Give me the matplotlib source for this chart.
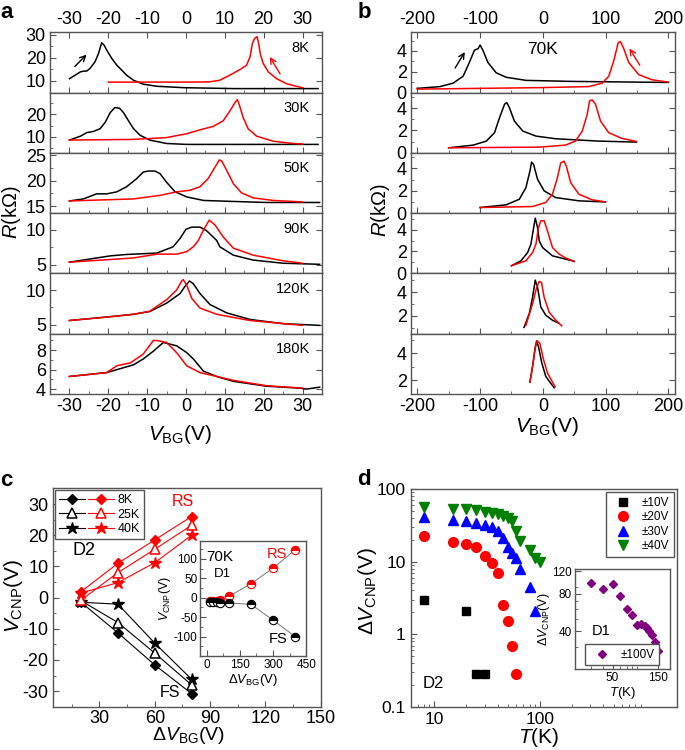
import matplotlib
matplotlib.use('Agg')
import matplotlib.pyplot as plt
from matplotlib.ticker import MultipleLocator, NullFormatter, FixedLocator
from matplotlib.lines import Line2D
from matplotlib.legend_handler import HandlerTuple

plt.rcParams['font.family'] = ['Liberation Sans', 'DejaVu Sans']
plt.rcParams['mathtext.fontset'] = 'custom'
plt.rcParams['mathtext.rm'] = 'Liberation Sans'
plt.rcParams['mathtext.it'] = 'Liberation Sans:italic'
plt.rcParams['axes.unicode_minus'] = False

# ---------------- panel a : R vs V_BG, device D2 ----------------
a_temps = ['8K', '30K', '50K', '90K', '120K', '180K']

a8_fs_v = [-30, -28.5, -27.2, -26.4, -25.5, -24.7, -23.4, -22.5, -21.7, -21.1, -20.4, -19.1, -17.8, -16.5, -15.3, -13.5, -11, -7.5, -0.7, 12.2, 34]
a8_fs_r = [11, 12.5, 13.9, 14.2, 14.3, 15.4, 18.3, 21.9, 26.5, 25.5, 23.3, 19.7, 16.8, 14.6, 12.5, 10.3, 8.6, 7.7, 7.1, 6.7, 6.7]
a8_rs_v = [-20, 0, 6, 8.7, 11.3, 13.9, 15.6, 16.5, 17.1, 17.7, 18.3, 18.7, 19.2, 19.9, 21.2, 23.3, 25.9, 28.4, 30]
a8_rs_r = [9.5, 9.5, 9.6, 10.3, 12.5, 14.9, 16.8, 20.4, 26.2, 28.4, 29.1, 26.2, 21.2, 17.5, 13.9, 11, 8.8, 7.7, 7.1]

a30_fs_v = [-30, -27.2, -25.5, -23.8, -22.1, -20.8, -19.5, -18.3, -17.1, -16.1, -14.8, -13.5, -11.8, -9.3, -5, 0.2, 34]
a30_fs_r = [8.6, 10.3, 11.9, 12.4, 13.6, 16.4, 20.7, 22.9, 22.6, 20.7, 17.1, 13.6, 10.7, 8.6, 7.1, 6.7, 6.7]
a30_rs_v = [-30, -13.5, -5, 0.2, 3.6, 7, 9.6, 11.3, 12.6, 13.2, 13.7, 14.7, 16, 18.2, 22.5, 27.6, 30]
a30_rs_r = [8.6, 8.9, 9.7, 11.4, 13.1, 14.6, 17.1, 21.4, 25, 26.4, 24.3, 18.6, 13.6, 10.3, 8.1, 7.1, 6.9]

a50_fs_v = [-30, -26.4, -23, -20.4, -17.8, -15.3, -12.7, -11, -9.7, -8, -6.7, -5, -2.8, 0.2, 4.5, 12.2, 20.7, 34.4]
a50_fs_r = [16, 16.4, 17.4, 17.4, 17.8, 18.8, 20.4, 21.7, 21.9, 21.9, 21.4, 19.7, 17.8, 16.8, 16.1, 15.9, 15.7, 15.7]
a50_rs_v = [-30, -13.5, -6.7, -2.4, 1, 3.6, 5.7, 7.5, 8.6, 9.2, 10.5, 12.2, 14.3, 17.3, 22.5, 30]
a50_rs_r = [16, 16.4, 17.1, 17.8, 18.1, 18.8, 20.4, 22.7, 24.1, 23.9, 22, 19.4, 17.6, 16.6, 16.1, 15.8]

a90_fs_v = [-30, -19.5, -15.3, -7.5, -3.3, -1.5, 0, 1.5, 3.6, 5.3, 7.9, 8.7, 12.2, 17.3, 25, 34.4]
a90_fs_r = [5.4, 6.3, 6.5, 6.7, 7.6, 8.8, 10.1, 10.4, 10.4, 9.9, 8.5, 7.6, 6.4, 5.7, 5.25, 5.1]
a90_rs_v = [-30, -13.5, -7.5, -2.4, 0.2, 1.9, 3.2, 4.5, 6, 7.5, 9.6, 12.2, 17.3, 25, 30]
a90_rs_r = [5.4, 6, 6.55, 6.55, 6.9, 7.6, 8.5, 10, 11.4, 10.7, 9, 7.4, 6.4, 5.6, 5.25]

a120_fs_v = [-30, -20.4, -13.5, -9.3, -5, -1.5, -0.3, 0.9, 1.9, 3.6, 6.2, 10.5, 16.5, 25, 34.4]
a120_fs_r = [5.6, 6.1, 6.5, 6.9, 8.1, 9.5, 10.5, 11.3, 10.9, 9.5, 7.9, 6.7, 5.75, 5.15, 4.9]
a120_rs_v = [-30, -20.4, -13.5, -9.3, -5, -2.4, -1.1, -0.7, 0.2, 1.5, 3.6, 7.9, 16.5, 30]
a120_rs_r = [5.6, 6.1, 6.5, 6.95, 8.6, 10, 11.3, 11.5, 10.7, 8.8, 7.4, 6.5, 5.6, 4.9]

a180_fs_v = [-30, -20.4, -17.8, -13.5, -11, -8.4, -5.8, -2.4, 0.2, 1.9, 4.5, 7.9, 12.2, 20.7, 29.3, 31, 34.4]
a180_fs_r = [5.3, 5.7, 6, 6.5, 7.1, 7.9, 8.8, 8.45, 7.75, 7.1, 5.85, 5.3, 4.8, 4.3, 4.1, 4.0, 4.2]
a180_rs_v = [-30, -20.4, -17.8, -14.3, -11, -8.4, -7.5, -5, -2.4, 0.2, 3.6, 7.9, 12.2, 20.7, 30]
a180_rs_r = [5.3, 5.7, 6.4, 6.7, 7.6, 9, 9, 8.8, 7.75, 6.4, 5.7, 5.3, 4.9, 4.35, 4.1]

a_ylims = [(5, 31), (3, 29.5), (13.6, 25.5), (3.8, 12.4), (3.7, 12.4), (3.5, 9.7)]
a_yticks = [[10, 20, 30], [10, 20], [15, 20, 25], [5, 10], [5, 10], [4, 6, 8]]
a_yminor = [5, 5, 2.5, 2.5, 2.5, 1]

# ---------------- panel b : R vs V_BG at 70K, device D1 ----------------
b1_fs_v = [-200, -164, -143, -127, -117, -109, -103, -100, -95.5, -87.6, -74.4, -58.6, -26.9, 47, 200]
b1_fs_r = [0.4, 0.57, 0.9, 1.57, 2.9, 4.07, 4.23, 4.57, 4.07, 2.9, 1.9, 1.47, 1.17, 1.07, 0.97]
b1_rs_v = [-200, -5.8, 73, 94.5, 105, 113, 120, 123.5, 128.8, 136.7, 152.5, 173.6, 200]
b1_rs_r = [0.33, 0.47, 0.57, 0.9, 1.57, 3.07, 4.8, 4.9, 4.23, 2.9, 1.73, 1.23, 1.0]

b2_fs_v = [-150, -111, -90, -77, -69, -61, -57.5, -53.3, -45.4, -32, -11, 20.6, 89, 149]
b2_fs_r = [0.45, 0.69, 1.05, 1.8, 3.15, 4.35, 4.5, 4.05, 2.85, 1.95, 1.5, 1.26, 1.05, 0.96]
b2_rs_v = [-150, -5.8, 36, 52, 62.8, 70.7, 74.4, 78.6, 83.9, 91.8, 105, 126, 149]
b2_rs_r = [0.45, 0.51, 0.69, 1.05, 1.95, 3.45, 4.65, 4.74, 4.35, 2.85, 1.8, 1.29, 1.02]

b3_fs_v = [-100, -58.6, -37.5, -27, -20.6, -18, -14.8, -8.4, 2.1, 20.6, 57.5, 99.7]
b3_fs_r = [0.5, 0.74, 1.24, 2.28, 3.76, 4.56, 4.36, 3.02, 1.99, 1.39, 1.1, 1.0]
b3_rs_v = [-100, -16.4, 4.7, 15.3, 23.2, 28.5, 33.8, 37.5, 44.3, 57.5, 78.6, 99.7]
b3_rs_r = [0.5, 0.59, 0.95, 1.69, 3.17, 4.5, 4.65, 4.2, 2.73, 1.69, 1.19, 1.0]

b4_fs_v = [-50, -34.8, -24.3, -19, -16.4, -12.1, -8.4, -5.8, -0.5, 15.3, 47, 50]
b4_fs_r = [0.7, 1.15, 1.9, 2.67, 3.58, 5.04, 4.18, 2.97, 2.36, 1.6, 1.15, 1.1]
b4_rs_v = [-50, -27, -16.4, -11, -6.9, -3.2, 2.1, 7.4, 15.3, 25.9, 36.4, 50]
b4_rs_r = [0.7, 1.15, 1.9, 2.67, 4.18, 4.8, 4.8, 3.88, 2.36, 1.76, 1.4, 1.09]

b5_fs_v = [-30, -21.6, -16.4, -12.1, -8.4, -3.2, 4.7, 15.3, 26]
b5_fs_r = [1.03, 2.2, 3.58, 5.03, 4.4, 2.75, 2.06, 1.64, 1.37]
b5_rs_v = [-27, -16.4, -10, -5.8, -2.1, 2.1, 10, 20.6, 30]
b5_rs_r = [1.2, 3.03, 4.4, 4.92, 4.83, 3.58, 2.33, 1.64, 1.17]

b6_fs_v = [-20.6, -16.4, -12.7, -10, -6.9, -1.6, 4.7, 18]
b6_fs_r = [1.88, 3.02, 4.24, 4.92, 4.48, 3.27, 2.29, 1.45]
b6_rs_v = [-20.6, -16.4, -12.1, -9, -4.7, 0.5, 7.4, 19.5]
b6_rs_r = [1.88, 3.02, 4.48, 4.92, 4.73, 3.64, 2.54, 1.52]

b_ylims = [(0, 5.8), (0, 5.4), (0, 5.4), (0, 5.5), (0.5, 5.6), (1.0, 5.45)]
b_yticks = [[0, 2, 4], [0, 2, 4], [0, 2, 4], [0, 2, 4], [2, 4], [2, 4]]

# ---------------- panel c : V_CNP vs sweep range ----------------
c_dvbg = [20, 40, 60, 80]
c_fs_8k = [-1.5, -11.3, -21.6, -30.8]
c_rs_8k = [1.9, 11, 18.5, 26]
c_fs_25k = [-1, -8, -17.8, -28]
c_rs_25k = [-0.8, 8, 15.5, 23.2]
c_fs_40k = [-1.5, -2.1, -14.6, -26.2]
c_rs_40k = [1.5, 4.8, 11.2, 20]

ci_dvbg = [15, 30, 45, 60, 100, 200, 300, 400]
ci_rs = [-9.4, -8.6, -7.6, -5, 3.3, 35.5, 76, 122.6]
ci_fs = [-10, -11, -12, -12.5, -13.7, -17, -57.6, -100]

# ---------------- panel d : hysteresis vs T ----------------
d_t10 = [8, 20, 25, 30]
d_v10 = [2.97, 2.1, 0.28, 0.28]
d_t20 = [8, 15, 20, 25, 30, 35, 40, 45, 50, 55, 60]
d_v20 = [22.1, 18.8, 17.5, 15.9, 12.1, 9.6, 7.0, 2.5, 1.54, 0.69, 0.28]
d_t30 = [8, 15, 20, 25, 30, 35, 40, 45, 50, 55, 60, 65, 80, 90]
d_v30 = [40.6, 37.4, 36.6, 34.1, 31.5, 29.7, 26.4, 20.9, 15.9, 13.3, 11.1, 7.84, 4.43, 2.12]
d_t40 = [8, 15, 20, 25, 30, 35, 40, 45, 50, 55, 60, 65, 80, 90, 100]
d_v40 = [55.8, 53.1, 52.0, 50.3, 48.3, 46.8, 44.8, 41.6, 39.4, 35.5, 26.4, 19.0, 14.5, 11.2, 10.0]

di_t = [30, 40, 50, 60, 70, 80, 90, 100, 110, 115, 120, 130, 140, 150]
di_v = [97.3, 87.7, 94.6, 75.9, 60.3, 53.8, 45.1, 45.6, 44.3, 42.5, 40.5, 37.4, 33.0, 28.0]

frame = '#555555'
fig = plt.figure(figsize=(6.85, 7.5), dpi=100)


def frame_style(ax):
    for s in ax.spines.values():
        s.set_color(frame)
        s.set_linewidth(1.0)
    ax.tick_params(which='both', direction='in', color=frame)
    ax.tick_params(which='major', length=4)
    ax.tick_params(which='minor', length=2)


a_data = [(a8_fs_v, a8_fs_r, a8_rs_v, a8_rs_r), (a30_fs_v, a30_fs_r, a30_rs_v, a30_rs_r),
          (a50_fs_v, a50_fs_r, a50_rs_v, a50_rs_r), (a90_fs_v, a90_fs_r, a90_rs_v, a90_rs_r),
          (a120_fs_v, a120_fs_r, a120_rs_v, a120_rs_r), (a180_fs_v, a180_fs_r, a180_rs_v, a180_rs_r)]
b_data = [(b1_fs_v, b1_fs_r, b1_rs_v, b1_rs_r), (b2_fs_v, b2_fs_r, b2_rs_v, b2_rs_r),
          (b3_fs_v, b3_fs_r, b3_rs_v, b3_rs_r), (b4_fs_v, b4_fs_r, b4_rs_v, b4_rs_r),
          (b5_fs_v, b5_fs_r, b5_rs_v, b5_rs_r), (b6_fs_v, b6_fs_r, b6_rs_v, b6_rs_r)]

top, bot = 0.957, 0.4747
h = (top - bot) / 6


def stack(x0, w, data, ylims, yticks, yminor, xlim, xmaj, xmin, fs):
    axs = []
    for i, (fv, fr, rv, rr) in enumerate(data):
        ax = fig.add_axes([x0, top - (i + 1) * h, w, h])
        frame_style(ax)
        ax.plot(fv, fr, color='black', lw=1.1)
        ax.plot(rv, rr, color='red', lw=1.1)
        ax.set_xlim(*xlim)
        ax.set_ylim(*ylims[i])
        ax.set_yticks(yticks[i])
        ax.yaxis.set_minor_locator(MultipleLocator(yminor[i]))
        ax.xaxis.set_major_locator(MultipleLocator(xmaj))
        ax.xaxis.set_minor_locator(MultipleLocator(xmin))
        ax.tick_params(labelsize=fs, right=True, top=(i == 0), labeltop=(i == 0),
                       labelbottom=(i == 5), pad=3)
        axs.append(ax)
    return axs


a_axes = stack(0.073, 0.397, a_data, a_ylims, a_yticks, a_yminor, (-35, 35), 10, 5, 13)
for ax, t in zip(a_axes, a_temps):
    ax.text(0.955, 0.74, t, transform=ax.transAxes, ha='right', va='center', fontsize=10.5)
a_axes[0].annotate('', xy=(-25.1, 22.2), xytext=(-29.1, 15.4),
                   arrowprops=dict(arrowstyle='->', color='black', lw=1))
a_axes[0].annotate('', xy=(21.2, 21.4), xytext=(24.6, 12),
                   arrowprops=dict(arrowstyle='->', color='red', lw=1))

b_axes = stack(0.600, 0.385, b_data, b_ylims, b_yticks, [1] * 6, (-210, 210), 100, 50, 13)
b_axes[0].text(0.5, 0.72, '70K', transform=b_axes[0].transAxes, ha='center', va='center', fontsize=12.5)
b_axes[0].annotate('', xy=(-122, 4.13), xytext=(-142, 2.13),
                   arrowprops=dict(arrowstyle='->', color='black', lw=1))
b_axes[0].annotate('', xy=(135.6, 4.47), xytext=(156.7, 2.4),
                   arrowprops=dict(arrowstyle='->', color='red', lw=1))

fig.text(0.017, 0.717, r'$R$(k$\Omega$)', rotation=90, ha='center', va='center', fontsize=14.5)
fig.text(0.556, 0.72, r'$R$(k$\Omega$)', rotation=90, ha='center', va='center', fontsize=14.5)
fig.text(0.263, 0.421, r'$V_{\rm BG}$(V)', ha='center', va='center', fontsize=15)
fig.text(0.799, 0.431, r'$V_{\rm BG}$(V)', ha='center', va='center', fontsize=15)

# ---------------- panel c ----------------
axc = fig.add_axes([0.078, 0.0577, 0.390, 0.291])
frame_style(axc)
lk = dict(color='black', lw=0.8)
lr = dict(color='red', lw=0.8)
mk_d = dict(marker='D', ms=5.5)
mk_t = dict(marker='^', ms=7, mfc='white', mew=1.1)
mk_s = dict(marker='*', ms=9)
axc.plot(c_dvbg, c_fs_8k, mfc='black', mec='black', **mk_d, **lk)
axc.plot(c_dvbg, c_fs_25k, mec='black', **mk_t, **lk)
axc.plot(c_dvbg, c_fs_40k, mfc='black', mec='black', **mk_s, **lk)
axc.plot(c_dvbg, c_rs_8k, mfc='red', mec='red', **mk_d, **lr)
axc.plot(c_dvbg, c_rs_25k, mec='red', **mk_t, **lr)
axc.plot(c_dvbg, c_rs_40k, mfc='red', mec='red', **mk_s, **lr)
axc.set_xlim(5, 150)
axc.set_ylim(-35, 35)
axc.xaxis.set_major_locator(FixedLocator([30, 60, 90, 120, 150]))
axc.xaxis.set_minor_locator(MultipleLocator(15))
axc.yaxis.set_major_locator(MultipleLocator(10))
axc.yaxis.set_minor_locator(MultipleLocator(5))
axc.tick_params(labelsize=13)
axc.tick_params(axis='x', pad=2)
hk = [Line2D([], [], mfc='black', mec='black', **mk_d, **lk),
      Line2D([], [], mec='black', **mk_t, **lk),
      Line2D([], [], mfc='black', mec='black', **mk_s, **lk)]
hr = [Line2D([], [], mfc='red', mec='red', **mk_d, **lr),
      Line2D([], [], mec='red', **mk_t, **lr),
      Line2D([], [], mfc='red', mec='red', **mk_s, **lr)]
leg = axc.legend([(hk[0], hr[0]), (hk[1], hr[1]), (hk[2], hr[2])], ['8K', '25K', '40K'],
                 handler_map={tuple: HandlerTuple(ndivide=None, pad=0.2)}, loc='upper left',
                 fontsize=9, handlelength=4.4, labelspacing=0.2, borderaxespad=0.15,
                 borderpad=0.3, handletextpad=0.3, fancybox=False, framealpha=1)
leg.get_frame().set_edgecolor(frame)
axc.text(75, 30.7, 'RS', color='red', ha='center', va='center', fontsize=11.5)
axc.text(68, -30.4, 'FS', color='black', ha='center', va='center', fontsize=11.5)
axc.text(21.8, 15.2, 'D2', ha='center', va='center', fontsize=13)
fig.text(0.019, 0.205, r'$V_{\rm CNP}$(V)', rotation=90, ha='center', va='center', fontsize=15)
fig.text(0.275, 0.019, r'$\Delta V_{\rm BG}$(V)', ha='center', va='center', fontsize=14)

axci = fig.add_axes([0.292, 0.1253, 0.155, 0.153])
frame_style(axci)
axci.plot(ci_dvbg, ci_rs, color='#777777', lw=0.7, marker='o', ms=6, fillstyle='top',
          mfc='red', mfcalt='white', mec='red', mew=0.8)
axci.plot(ci_dvbg, ci_fs, color='#777777', lw=0.7, marker='o', ms=6, fillstyle='top',
          mfc='black', mfcalt='white', mec='black', mew=0.8)
axci.set_xlim(-30, 445)
axci.set_ylim(-150, 145)
axci.set_xticks([0, 150, 300, 450])
axci.set_yticks([-100, -50, 0, 50, 100])
axci.xaxis.set_minor_locator(MultipleLocator(75))
axci.yaxis.set_minor_locator(MultipleLocator(25))
axci.tick_params(labelsize=8.5, pad=2)
axci.set_xlabel(r'$\Delta V_{\rm BG}$(V)', fontsize=9.5, labelpad=1)
axci.set_ylabel(r'$V_{\rm CNP}$(V)', fontsize=9, labelpad=0)
axci.text(59, 105, '70K', ha='center', va='center', fontsize=11)
axci.text(71, 61, 'D1', ha='center', va='center', fontsize=9.5)
axci.text(317, 112, 'RS', color='red', ha='center', va='center', fontsize=10.5)
axci.text(324, -106, 'FS', ha='center', va='center', fontsize=10.5)

# ---------------- panel d ----------------
axd = fig.add_axes([0.5996, 0.0573, 0.389, 0.291])
frame_style(axd)
axd.set_xscale('log')
axd.set_yscale('log')
axd.plot(d_t10, d_v10, ls='none', marker='s', ms=6, color='black', label='±10V')
axd.plot(d_t20, d_v20, ls='none', marker='o', ms=7, color='red', label='±20V')
axd.plot(d_t30, d_v30, ls='none', marker='^', ms=7.5, color='blue', label='±30V')
axd.plot(d_t40, d_v40, ls='none', marker='v', ms=7.5, color='#008000', label='±40V')
axd.set_xlim(6, 2000)
axd.set_ylim(0.1, 100)
axd.set_xticks([10, 100])
axd.set_xticklabels(['10', '100'])
axd.set_yticks([0.1, 1, 10, 100])
axd.set_yticklabels(['0.1', '1', '10', '100'])
axd.xaxis.set_minor_formatter(NullFormatter())
axd.yaxis.set_minor_formatter(NullFormatter())
axd.tick_params(labelsize=12.5)
legd = axd.legend(loc='upper right', fontsize=8.5, numpoints=1, labelspacing=0.2,
                  handletextpad=0.6, borderaxespad=0.3, fancybox=False, framealpha=1)
legd.get_frame().set_edgecolor(frame)
axd.text(0.084, 0.11, 'D2', transform=axd.transAxes, ha='center', va='center', fontsize=12)
fig.text(0.536, 0.212, r'$\Delta V_{\rm CNP}$(V)', rotation=90, ha='center', va='center', fontsize=15)
fig.text(0.787, 0.017, r'$T$(K)', ha='center', va='center', fontsize=15)

axdi = fig.add_axes([0.839, 0.108, 0.139, 0.133])
frame_style(axdi)
axdi.set_xscale('log')
axdi.set_yscale('log')
axdi.plot(di_t, di_v, ls='none', marker='D', ms=4, color='#800080', label='±100V')
axdi.set_xlim(20, 200)
axdi.set_ylim(20, 125)
axdi.set_xticks([50, 150])
axdi.set_xticklabels(['50', '150'])
axdi.set_yticks([40, 80, 120])
axdi.set_yticklabels(['40', '80', '120'])
axdi.xaxis.set_minor_formatter(NullFormatter())
axdi.yaxis.set_minor_formatter(NullFormatter())
axdi.tick_params(labelsize=8.5, pad=2)
axdi.set_xlabel(r'$T$(K)', fontsize=9.5, labelpad=1)
axdi.set_ylabel(r'$\Delta V_{\rm CNP}$(V)', fontsize=9, labelpad=0)
legdi = axdi.legend(loc='lower center', fontsize=8.5, numpoints=1, handletextpad=0.6,
                    borderaxespad=0.3, fancybox=False, framealpha=1)
legdi.get_frame().set_edgecolor(frame)
axdi.text(0.28, 0.38, 'D1', transform=axdi.transAxes, ha='center', va='center', fontsize=10.5)

# panel letters
fig.text(0.0, 0.983, 'a', fontsize=16, fontweight='bold', ha='left', va='center')
fig.text(0.522, 0.983, 'b', fontsize=16, fontweight='bold', ha='left', va='center')
fig.text(0.0, 0.36, 'c', fontsize=16, fontweight='bold', ha='left', va='center')
fig.text(0.522, 0.361, 'd', fontsize=16, fontweight='bold', ha='left', va='center')

fig.savefig('out.png', dpi=100)
